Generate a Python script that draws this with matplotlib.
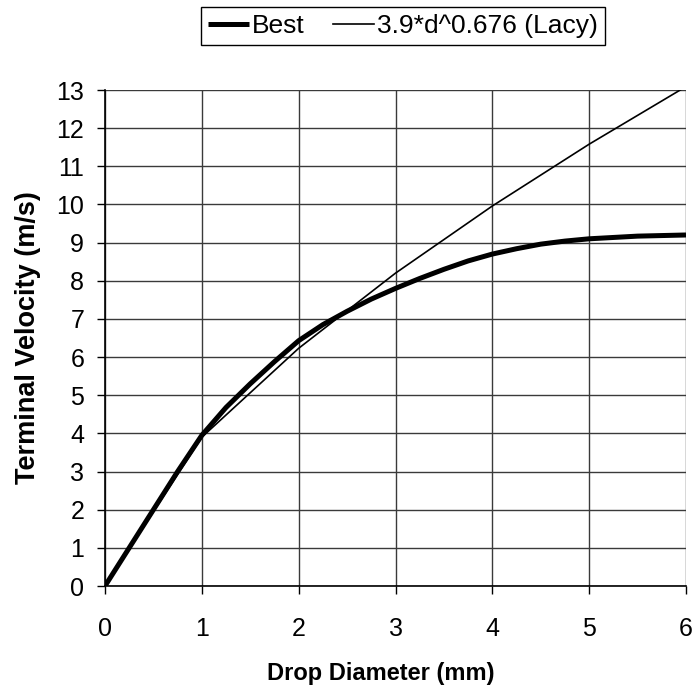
import matplotlib
matplotlib.use("Agg")
import matplotlib.pyplot as plt

plt.rcParams['font.family'] = ['Liberation Sans', 'DejaVu Sans']

# Drop diameter (mm) and terminal velocity (m/s)
best_d = [0, 0.25, 0.5, 0.75, 1.0, 1.25, 1.5, 1.75, 2.0, 2.25, 2.5, 2.75, 3.0, 3.25,
          3.5, 3.75, 4.0, 4.25, 4.5, 4.75, 5.0, 5.5, 6.0]
best_v = [0, 1.0, 2.0, 3.0, 3.95, 4.68, 5.3, 5.88, 6.43, 6.85, 7.2, 7.52, 7.8, 8.06,
          8.3, 8.52, 8.7, 8.84, 8.96, 9.04, 9.1, 9.17, 9.2]

lacy_d = [0, 1, 2, 3, 4, 5, 6]
lacy_v = [0, 3.9, 6.23, 8.2, 9.96, 11.58, 13.09]

x_ticks = [0, 1, 2, 3, 4, 5, 6]
y_ticks = list(range(0, 14))

fig = plt.figure(figsize=(6.98, 6.90), dpi=100)
ax = fig.add_axes([105 / 698, 1 - 586 / 690, 581 / 698, 496 / 690])

ax.plot(best_d, best_v, color='black', lw=3.6, solid_joinstyle='round',
        solid_capstyle='butt', label='Best', zorder=3)
ax.plot(lacy_d, lacy_v, color='black', lw=1.2, label='3.9*d^0.676 (Lacy)', zorder=3)

ax.set_xlim(0, 6)
ax.set_ylim(0, 13)
ax.set_xticks(x_ticks)
ax.set_yticks(y_ticks)
ax.grid(True, color='#3a3a3a', lw=1.0)
ax.set_axisbelow(True)

for side in ('top', 'right'):
    ax.spines[side].set_visible(False)
for side in ('left', 'bottom'):
    ax.spines[side].set_color('black')
    ax.spines[side].set_linewidth(1.2)

ax.tick_params(axis='y', direction='out', length=6, width=1, pad=9, labelsize=18, colors='black')
ax.tick_params(axis='x', direction='out', length=6, width=1, pad=16, labelsize=18, colors='black')

ax.set_xlabel('Drop Diameter (mm)', fontsize=17, fontweight='bold', va='baseline')
ax.set_ylabel('Terminal Velocity (m/s)', fontsize=19.5, fontweight='bold', va='center')
ax.xaxis.set_label_coords((381 - 105) / 581, -(680 - 586) / 496)
ax.yaxis.set_label_coords(-(105 - 28) / 581, 0.5)

leg = fig.legend(loc='center', bbox_to_anchor=(403 / 698, 1 - 26 / 690), ncol=2,
                 fontsize=19, frameon=True, fancybox=False, shadow=False,
                 handlelength=1.55, handletextpad=0.12, columnspacing=1.05,
                 borderpad=0.28, borderaxespad=0)
leg.get_frame().set_edgecolor('black')
leg.get_frame().set_linewidth(1.0)
leg.get_frame().set_alpha(1)

fig.savefig('out.png', dpi=100)
